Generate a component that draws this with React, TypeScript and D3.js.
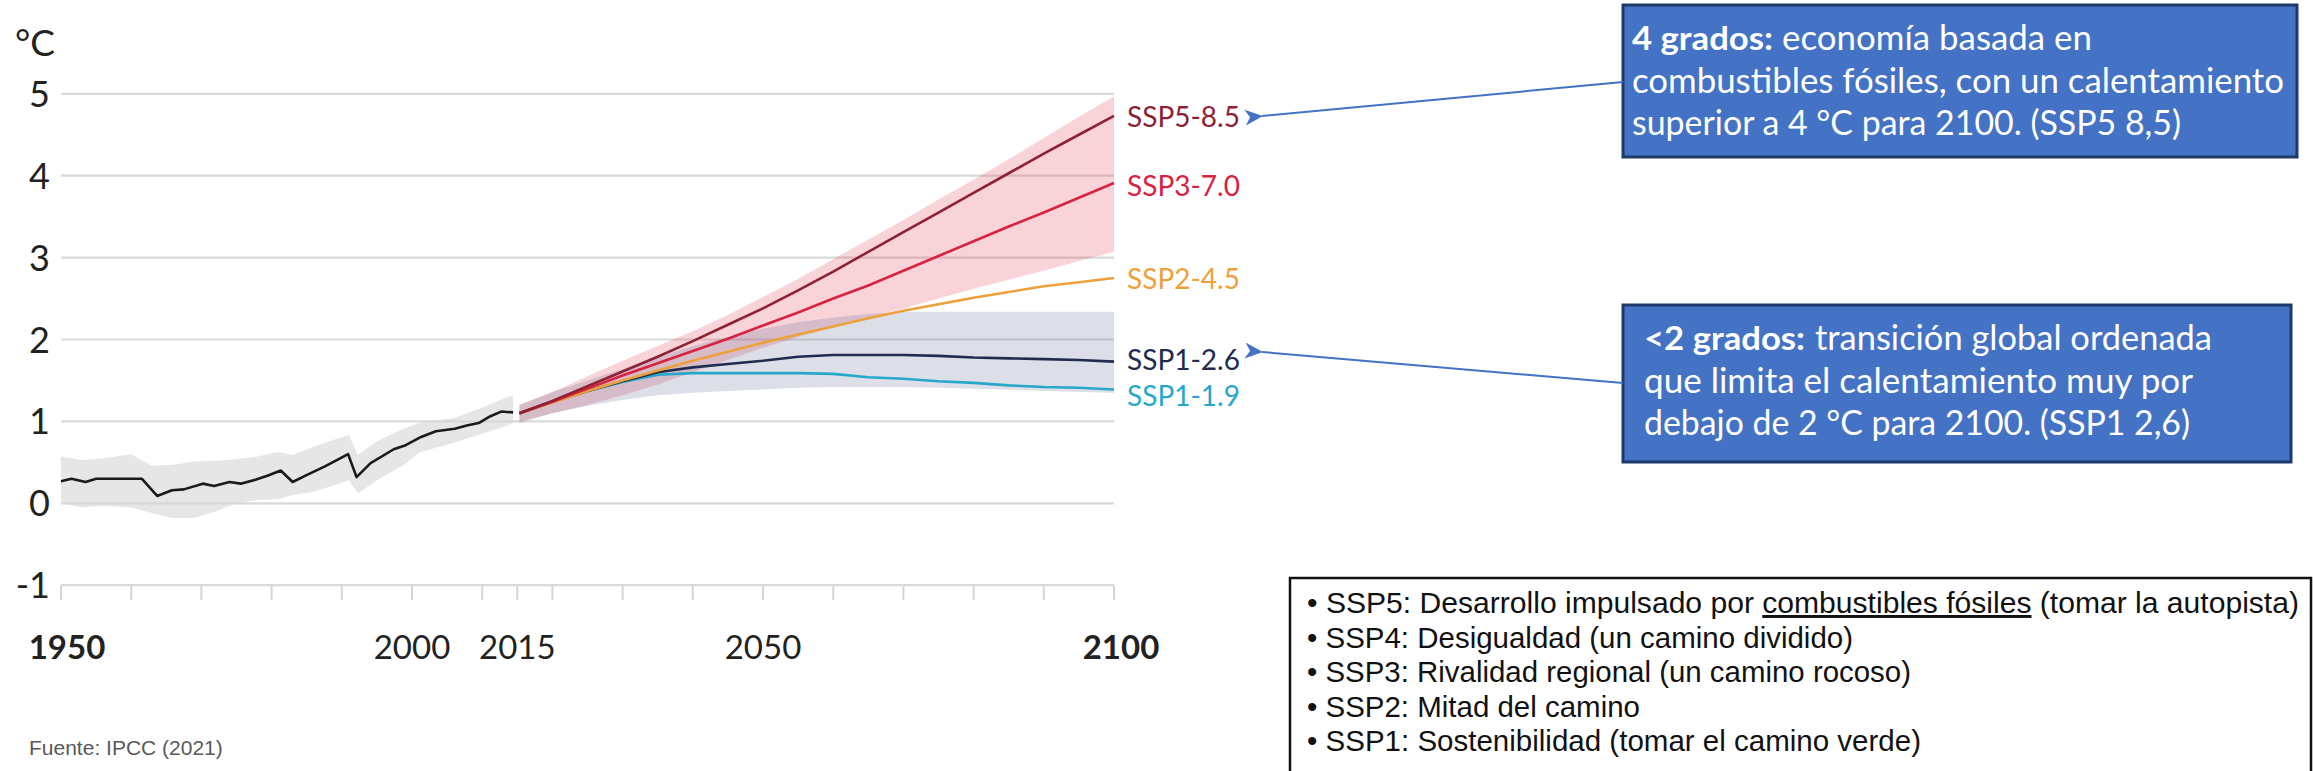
import React from 'react';
import * as d3 from 'd3';

// ---------- data ----------
const yTickValues = [-1, 0, 1, 2, 3, 4, 5];
const xTickYears = [1950, 1960, 1970, 1980, 1990, 2000, 2010, 2015, 2020, 2030, 2040, 2050, 2060, 2070, 2080, 2090, 2100];
const xLabelYears = [1950, 2000, 2015, 2050, 2100];
const xBoldYears = [1950, 2100];

// historical observed (year, °C)
const histLine: [number, number][] = [
  [1950, 0.27], [1951.5, 0.30], [1953.5, 0.26], [1955, 0.30], [1961.5, 0.30], [1963.7, 0.09],
  [1965.8, 0.16], [1967.5, 0.17], [1970.2, 0.24], [1971.8, 0.21], [1974, 0.26], [1975.6, 0.24],
  [1977.8, 0.29], [1979.5, 0.34], [1981.3, 0.40], [1983, 0.26], [1984.9, 0.34], [1987.6, 0.45],
  [1990.9, 0.60], [1992.1, 0.32], [1994.1, 0.49], [1997.4, 0.66], [1999.1, 0.71], [2001.3, 0.81],
  [2003.4, 0.88], [2006.1, 0.91], [2007.8, 0.95], [2009.5, 0.98], [2011.1, 1.06], [2012.7, 1.12],
  [2014.4, 1.11],
];
// historical range (year, low, high)
const histBand: [number, number, number][] = [
  [1950, 0.0, 0.57], [1953, -0.05, 0.53], [1956, -0.03, 0.55], [1960, -0.05, 0.6], [1963, -0.12, 0.46],
  [1966, -0.18, 0.47], [1969, -0.18, 0.51], [1972, -0.1, 0.52], [1975, 0.0, 0.54], [1978, 0.04, 0.57],
  [1981, 0.05, 0.63], [1983, 0.1, 0.59], [1986, 0.14, 0.69], [1990, 0.25, 0.81], [1991, 0.28, 0.83],
  [1992.3, 0.12, 0.59], [1995, 0.28, 0.76], [1999, 0.48, 0.92], [2001, 0.62, 0.98], [2006, 0.74, 1.04],
  [2010, 0.85, 1.17], [2012.5, 0.92, 1.26], [2014.4, 0.98, 1.32],
];

const futureYears = [2015.3, 2020, 2025, 2030, 2035, 2040, 2045, 2050, 2055, 2060, 2065, 2070, 2075, 2080, 2085, 2090, 2095, 2100];
const ssp585 = [1.10, 1.25, 1.43, 1.61, 1.79, 1.98, 2.18, 2.38, 2.60, 2.83, 3.07, 3.31, 3.55, 3.79, 4.03, 4.27, 4.50, 4.73];
const ssp370 = [1.10, 1.24, 1.40, 1.56, 1.71, 1.86, 2.01, 2.17, 2.33, 2.50, 2.66, 2.84, 3.02, 3.20, 3.38, 3.55, 3.73, 3.91];
const ssp245 = [1.10, 1.23, 1.37, 1.50, 1.62, 1.74, 1.85, 1.96, 2.06, 2.16, 2.26, 2.35, 2.43, 2.51, 2.58, 2.65, 2.70, 2.75];
const ssp126 = [1.10, 1.24, 1.37, 1.49, 1.60, 1.66, 1.70, 1.74, 1.79, 1.81, 1.81, 1.81, 1.80, 1.78, 1.77, 1.76, 1.75, 1.73];
const ssp119 = [1.10, 1.24, 1.37, 1.48, 1.57, 1.59, 1.59, 1.59, 1.59, 1.58, 1.54, 1.52, 1.49, 1.47, 1.44, 1.42, 1.41, 1.39];
const ssp370Low = [1.0, 1.1, 1.2, 1.32, 1.45, 1.6, 1.75, 1.9, 2.03, 2.15, 2.27, 2.38, 2.5, 2.62, 2.73, 2.84, 2.96, 3.07];
const ssp370High = [1.2, 1.36, 1.55, 1.74, 1.92, 2.1, 2.3, 2.52, 2.74, 2.98, 3.22, 3.46, 3.71, 3.95, 4.2, 4.46, 4.72, 4.97];
const ssp126Low = [0.98, 1.1, 1.19, 1.26, 1.32, 1.35, 1.37, 1.39, 1.41, 1.42, 1.42, 1.42, 1.41, 1.40, 1.39, 1.37, 1.36, 1.35];
const ssp126High = [1.2, 1.36, 1.5, 1.64, 1.78, 1.92, 2.03, 2.13, 2.21, 2.27, 2.31, 2.34, 2.34, 2.34, 2.34, 2.34, 2.34, 2.34];

const scenarioNames = ['SSP1-1.9', 'SSP1-2.6', 'SSP2-4.5', 'SSP3-7.0', 'SSP5-8.5'];
const scenarioValues = [ssp119, ssp126, ssp245, ssp370, ssp585];
const scenarioColors = ['#26a8ca', '#202b4e', '#eea13b', '#d8223f', '#8f2134'];
const scenarioLabelNudge = [6, -3, 0, 2, 0];

// callout texts: bold lead, rest of first line, following lines
const box1Bold = '4 grados:';
const box1Lines = ['economía basada en', 'combustibles fósiles, con un calentamiento', 'superior a 4 °C para 2100. (SSP5 8,5)'];
const box2Bold = '<2 grados:';
const box2Lines = ['transición global ordenada', 'que limita el calentamiento muy por', 'debajo de 2 °C para 2100. (SSP1 2,6)'];

const legendLines = [
  { pre: '• SSP5: Desarrollo impulsado por ', under: 'combustibles fósiles', post: ' (tomar la autopista)' },
  { pre: '• SSP4: Desigualdad (un camino dividido)', under: '', post: '' },
  { pre: '• SSP3: Rivalidad regional (un camino rocoso)', under: '', post: '' },
  { pre: '• SSP2: Mitad del camino', under: '', post: '' },
  { pre: '• SSP1: Sostenibilidad (tomar el camino verde)', under: '', post: '' },
];
const sourceText = 'Fuente: IPCC (2021)';

// ---------- layout (text fitting widths) ----------
const box1Widths = [310, 652, 549];
const box2Widths = [397, 549, 546];
const legendWidths = [992, 546, 604, 333, 614];

// ---------- chart ----------
const W = 2313;
const H = 771;
const x = d3.scaleLinear().domain([1950, 2100]).range([61, 1114]);
const y = d3.scaleLinear().domain([-1, 5]).range([585.2, 93.8]);

const lineGen = d3.line<[number, number]>().x(d => x(d[0])).y(d => y(d[1]));
const areaGen = d3.area<[number, number, number]>().x(d => x(d[0])).y0(d => y(d[1])).y1(d => y(d[2]));

const zip3 = (a: number[], b: number[]): [number, number, number][] => futureYears.map((yr, i) => [yr, a[i], b[i]]);
const zip2 = (a: number[]): [number, number][] => futureYears.map((yr, i) => [yr, a[i]]);

const chartFont = 'Lato, "Open Sans", sans-serif';
const arialFont = '"Liberation Sans", Arial, sans-serif';

export default function App() {
  const axisY = y(-1);
  return (
    <svg width={W} height={H} viewBox={`0 0 ${W} ${H}`} style={{ position: 'absolute', left: 0, top: 0, display: 'block', background: '#fff' }}>
      <defs>
        <marker id="ah" viewBox="0 0 18 16" refX="1" refY="8" markerWidth="18" markerHeight="16" markerUnits="userSpaceOnUse" orient="auto-start-reverse">
          <path d="M0,8 L18,0 L13,8 L18,16 Z" fill="#4472c4" />
        </marker>
      </defs>
      <rect x={0} y={0} width={W} height={H} fill="#fff" />

      {/* gridlines */}
      {yTickValues.map(v => (
        <line key={'g' + v} x1={x(1950)} x2={x(2100)} y1={y(v)} y2={y(v)} stroke="#dadada" strokeWidth={2.2} />
      ))}
      {/* ticks */}
      {xTickYears.map(t => (
        <line key={'t' + t} x1={x(t)} x2={x(t)} y1={axisY} y2={axisY + 15} stroke="#d6d6d6" strokeWidth={2} />
      ))}
      {/* y labels */}
      {yTickValues.map(v => (
        <text key={'yl' + v} x={50} y={y(v) + 13} textAnchor="end" fontFamily={chartFont} fontSize={36} fill="#222">{v}</text>
      ))}
      <text x={15} y={56} fontFamily={chartFont} fontSize={37} fill="#222">°C</text>
      {/* x labels */}
      {xLabelYears.map(t => (
        <text key={'xl' + t} x={x(t)} dx={t === 1950 ? 6 : t === 2100 ? 7 : 0} y={659} textAnchor="middle" fontFamily={chartFont}
          fontSize={33} fontWeight={xBoldYears.includes(t) ? 700 : 400} fill="#222">{t}</text>
      ))}

      {/* bands */}
      <path d={areaGen(histBand) || ''} fill="#d6d6d6" fillOpacity={0.6} />
      <path d={areaGen(zip3(ssp370Low, ssp370High)) || ''} fill="#e0354d" fillOpacity={0.21} />
      <path d={areaGen(zip3(ssp126Low, ssp126High)) || ''} fill="#3c5078" fillOpacity={0.18} />

      {/* lines */}
      <path d={lineGen(histLine) || ''} fill="none" stroke="#1a1a1a" strokeWidth={2.6} strokeLinejoin="round" />
      {scenarioValues.map((vals, i) => (
        <path key={'s' + i} d={lineGen(zip2(vals)) || ''} fill="none" stroke={scenarioColors[i]} strokeWidth={2.6} strokeLinejoin="round" />
      ))}
      {scenarioValues.map((vals, i) => (
        <text key={'sl' + i} x={1127} y={y(vals[vals.length - 1]) + scenarioLabelNudge[i]} dominantBaseline="central"
          fontFamily={chartFont} fontSize={28} fill={scenarioColors[i]}>{scenarioNames[i]}</text>
      ))}

      {/* source */}
      <text x={29} y={755} fontFamily={arialFont} fontSize={21} fill="#595959">{sourceText}</text>

      {/* callout box 1 */}
      <rect x={1623} y={5} width={674} height={152} fill="#4472c4" stroke="#1f3a6a" strokeWidth={3} />
      <text x={1632} y={50} fontFamily={chartFont} fontSize={32} fontWeight={700} fill="#fff" textLength={141} lengthAdjust="spacingAndGlyphs">{box1Bold}</text>
      {box1Lines.map((l, i) => (
        <text key={'b1' + i} x={i === 0 ? 1782 : 1632} y={50 + i * 42.5} fontFamily={chartFont} fontSize={34} fill="#fff"
          textLength={box1Widths[i]} lengthAdjust="spacingAndGlyphs">{l}</text>
      ))}
      {/* callout box 2 */}
      <rect x={1623} y={305} width={668} height={157} fill="#4472c4" stroke="#1f3a6a" strokeWidth={3} />
      <text x={1644} y={350} fontFamily={chartFont} fontSize={32} fontWeight={700} fill="#fff" textLength={161} lengthAdjust="spacingAndGlyphs">{box2Bold}</text>
      {box2Lines.map((l, i) => (
        <text key={'b2' + i} x={i === 0 ? 1815 : 1644} y={350 + i * 42.5} fontFamily={chartFont} fontSize={34} fill="#fff"
          textLength={box2Widths[i]} lengthAdjust="spacingAndGlyphs">{l}</text>
      ))}
      {/* arrows */}
      <line x1={1623} y1={82} x2={1262} y2={116} stroke="#4472c4" strokeWidth={2} markerEnd="url(#ah)" />
      <line x1={1623} y1={383} x2={1262} y2={352} stroke="#4472c4" strokeWidth={2} markerEnd="url(#ah)" />

      {/* legend box */}
      <rect x={1290} y={578} width={1021} height={210} fill="#fff" stroke="#111" strokeWidth={2.5} />
      {legendLines.map((l, i) => (
        <text key={'lg' + i} x={1307} y={613 + i * 34.5} fontFamily={arialFont} fontSize={29.5} fill="#111"
          textLength={legendWidths[i]} lengthAdjust="spacingAndGlyphs">
          <tspan>{l.pre}</tspan>
          {l.under && <tspan style={{ textDecoration: 'underline' }}>{l.under}</tspan>}
          {l.post && <tspan>{l.post}</tspan>}
        </text>
      ))}
    </svg>
  );
}
